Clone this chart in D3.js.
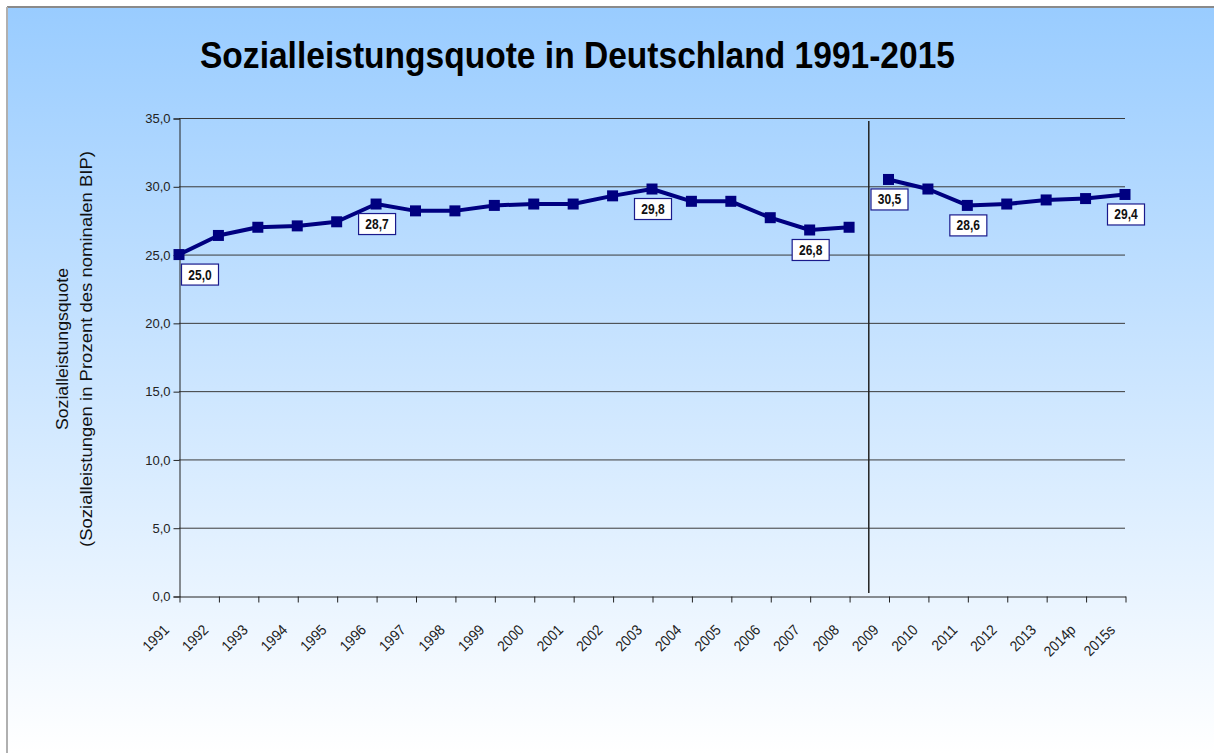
<!DOCTYPE html>
<meta charset="utf-8">
<style>
    body { margin: 0; background: #fff; }
    text { font-family: "Liberation Sans", Arial, sans-serif; }
    .grid line { stroke: #3a3a3a; stroke-width: 1px; }
    .tick-lbl { fill: #222; }
    .lbl-box { fill: #fff; stroke: #1a1a8c; stroke-width: 1.2px; }
    .lbl-txt { font-size: 14px; font-weight: bold; fill: #111; }
</style>
<body>
<script src="https://d3js.org/d3.v7.min.js"></script>
<script>
    var years = ["1991","1992","1993","1994","1995","1996","1997","1998","1999","2000",
                 "2001","2002","2003","2004","2005","2006","2007","2008","2009","2010",
                 "2011","2012","2013","2014p","2015s"];
    var quote = [25.0, 26.4, 27.0, 27.1, 27.4, 28.7, 28.2, 28.2, 28.6, 28.7,
                 28.7, 29.3, 29.8, 28.9, 28.9, 27.7, 26.8, 27.0, 30.5, 29.8,
                 28.6, 28.7, 29.0, 29.1, 29.4];
    var yTicks = [0, 5, 10, 15, 20, 25, 30, 35];
    var labelled = ["1991", "1996", "2003", "2007", "2009", "2011", "2015s"];
    var breakAfter = "2008";

    var W = 1214, H = 753;
    var svg = d3.select("body").append("svg").attr("width", W).attr("height", H);

    var defs = svg.append("defs");
    var grad = defs.append("linearGradient").attr("id", "bg")
        .attr("x1", 0).attr("y1", 0).attr("x2", 0).attr("y2", 1);
    grad.append("stop").attr("offset", "0%").attr("stop-color", "#99ccff");
    grad.append("stop").attr("offset", "100%").attr("stop-color", "#ffffff");

    svg.append("rect").attr("x", 7).attr("y", 7).attr("width", W - 7).attr("height", H - 7)
        .attr("fill", "url(#bg)");
    svg.append("line").attr("x1", 7).attr("x2", W).attr("y1", 7).attr("y2", 7)
        .attr("stroke", "#8a8a8a").attr("stroke-width", 2);
    svg.append("line").attr("x1", 7).attr("x2", 7).attr("y1", 7).attr("y2", H)
        .attr("stroke", "#b0b0b0").attr("stroke-width", 2);

    // title
    svg.append("text")
        .attr("x", 200).attr("y", 68)
        .attr("textLength", 755).attr("lengthAdjust", "spacingAndGlyphs")
        .style("font-size", "37px").style("font-weight", "bold").style("fill", "#000")
        .text("Sozialleistungsquote in Deutschland 1991-2015");

    var x = d3.scalePoint().domain(years).range([179, 1125]).padding(0);
    var y = d3.scaleLinear().domain([0, 35]).range([596, 118]);

    // gridlines
    svg.append("g").attr("class", "grid")
        .selectAll("line").data(yTicks.filter(d => d > 0)).join("line")
        .attr("x1", 179).attr("x2", 1125)
        .attr("y1", d => y(d) + 0.5).attr("y2", d => y(d) + 0.5);

    // y axis
    var yAxis = svg.append("g").attr("transform", "translate(179.5,0.5)")
        .call(d3.axisLeft(y).tickValues(yTicks).tickSize(6).tickPadding(3)
            .tickFormat(d => d3.format(".1f")(d).replace(".", ",")));
    yAxis.select(".domain").attr("stroke", "#222");
    yAxis.selectAll(".tick line").attr("stroke", "#222");
    yAxis.selectAll("text").attr("class", "tick-lbl").style("font-size", "13px")
        .attr("font-family", null);

    // x axis
    var xAxis = svg.append("g").attr("transform", "translate(0.5,596.5)")
        .call(d3.axisBottom(x).tickSize(6).tickSizeOuter(0).tickFormat(""));
    xAxis.select(".domain").attr("stroke", "#222");
    xAxis.selectAll(".tick line").attr("stroke", "#222");

    svg.append("g").selectAll("text").data(years).join("text")
        .attr("class", "tick-lbl")
        .style("font-size", "15px")
        .attr("text-anchor", "end")
        .attr("transform", d => "translate(" + (x(d) - 9) + ",631) rotate(-45) scale(0.9,1)")
        .text(d => d);

    // break line between 2008 and 2009
    var bi = years.indexOf(breakAfter);
    var bx = (x(years[bi]) + x(years[bi + 1])) / 2;
    svg.append("line").attr("x1", bx).attr("x2", bx).attr("y1", 121).attr("y2", 593)
        .attr("stroke", "#222").attr("stroke-width", 1.5);

    // y axis title
    var yt = svg.append("g").attr("transform", "translate(0,349) rotate(-90)");
    yt.append("text").attr("x", 0).attr("y", 68).attr("text-anchor", "middle")
        .attr("textLength", 162).attr("lengthAdjust", "spacingAndGlyphs")
        .style("font-size", "17px").style("fill", "#111")
        .text("Sozialleistungsquote");
    yt.append("text").attr("x", 0).attr("y", 92).attr("text-anchor", "middle")
        .attr("textLength", 396).attr("lengthAdjust", "spacingAndGlyphs")
        .style("font-size", "17px").style("fill", "#111")
        .text("(Sozialleistungen  in  Prozent  des  nominalen  BIP)");

    // series
    var pts = years.map((d, i) => ({ year: d, v: quote[i], i: i }));
    var segs = [pts.filter(p => p.i <= bi), pts.filter(p => p.i > bi)];
    var line = d3.line().x(p => x(p.year)).y(p => y(p.v));
    svg.append("g").selectAll("path").data(segs).join("path")
        .attr("d", line).attr("fill", "none")
        .attr("stroke", "#000080").attr("stroke-width", 4).attr("stroke-linejoin", "round");
    svg.append("g").selectAll("rect").data(pts).join("rect")
        .attr("x", p => x(p.year) - 5.5).attr("y", p => y(p.v) - 5.5)
        .attr("width", 11).attr("height", 11).attr("fill", "#000080");

    // data labels
    var lab = svg.append("g").selectAll("g").data(pts.filter(p => labelled.includes(p.year))).join("g")
        .attr("transform", p => {
            var cx = x(p.year) + (p.i === 0 ? 21 : 1);
            return "translate(" + cx + "," + (y(p.v) + 9.5) + ")";
        });
    lab.append("rect").attr("class", "lbl-box")
        .attr("x", -18.5).attr("y", 0).attr("width", 37).attr("height", 21);
    lab.append("text").attr("class", "lbl-txt")
        .attr("text-anchor", "middle").attr("y", 15.5)
        .attr("transform", "scale(0.86,1)")
        .text(p => d3.format(".1f")(p.v).replace(".", ","));
</script>
</body>
</html>
